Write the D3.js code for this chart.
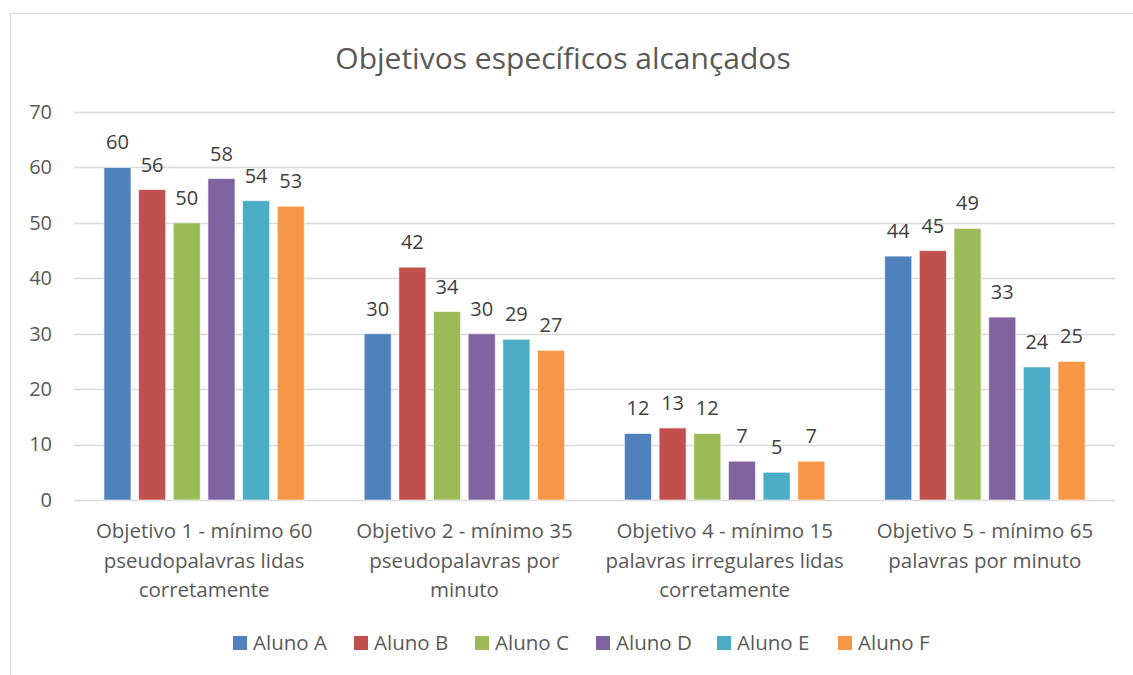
<!DOCTYPE html>
<html>
<head>
<meta charset="utf-8">
<script src="https://cdn.jsdelivr.net/npm/d3@7"></script>
<style>
  body { margin: 0; background: #fff; }
  svg { display: block; font-family: "Open Sans", "Noto Sans", sans-serif; }
</style>
</head>
<body>
<svg id="chart" width="1133" height="675"></svg>
<script>
const title = 'Objetivos específicos alcançados';

const categories = [
  'Objetivo 1 - mínimo 60\npseudopalavras lidas\ncorretamente',
  'Objetivo 2 - mínimo 35\npseudopalavras por\nminuto',
  'Objetivo 4 - mínimo 15\npalavras irregulares lidas\ncorretamente',
  'Objetivo 5 - mínimo 65\npalavras por minuto',
];

const seriesNames = ['Aluno A', 'Aluno B', 'Aluno C', 'Aluno D', 'Aluno E', 'Aluno F'];

const seriesValues = [
  [60, 30, 12, 44],
  [56, 42, 13, 45],
  [50, 34, 12, 49],
  [58, 30, 7, 33],
  [54, 29, 5, 24],
  [53, 27, 7, 25],
];

const yTicks = [0, 10, 20, 30, 40, 50, 60, 70];

const seriesColors = ['#4F81BD', '#C0504D', '#9BBB59', '#8064A2', '#4BACC6', '#F79646'];

function drawChart() {
  const svg = d3.select('#chart');
  const textColor = '#595959';
  const font = '"Open Sans", "Noto Sans", sans-serif';

  // frame (cut by the picture on the right and bottom)
  svg.append('rect')
    .attr('x', 10.5)
    .attr('y', 13.5)
    .attr('width', 1140)
    .attr('height', 700)
    .attr('fill', '#fff')
    .attr('stroke', '#d9d9d9');

  const plot = { left: 74, right: 1115, top: 112, bottom: 500 };

  const x0 = d3.scaleBand()
    .domain(categories)
    .range([plot.left, plot.right])
    .paddingInner(0.23)
    .paddingOuter(0.115);

  const x1 = d3.scaleBand()
    .domain(seriesNames)
    .range([0, x0.bandwidth()])
    .paddingInner(0.22)
    .paddingOuter(0);

  const y = d3.scaleLinear()
    .domain([0, 70])
    .range([plot.bottom, plot.top]);

  const color = d3.scaleOrdinal(seriesNames, seriesColors);

  // title
  svg.append('text')
    .attr('x', 563)
    .attr('y', 69)
    .attr('text-anchor', 'middle')
    .attr('font-size', 30)
    .attr('fill', textColor)
    .text(title);

  // gridlines
  svg.append('g')
    .selectAll('line')
    .data(yTicks)
    .join('line')
    .attr('x1', plot.left)
    .attr('x2', plot.right)
    .attr('y1', (d) => Math.round(y(d)) + 0.5)
    .attr('y2', (d) => Math.round(y(d)) + 0.5)
    .attr('stroke', '#d9d9d9')
    .attr('stroke-width', 1.3);

  // y axis labels
  const yAxis = svg.append('g')
    .attr('transform', `translate(${plot.left - 22},0)`)
    .call(d3.axisLeft(y).tickValues(yTicks).tickSize(0).tickPadding(0));
  yAxis.select('.domain').remove();
  yAxis.selectAll('text')
    .attr('font-size', 20)
    .attr('font-family', font)
    .attr('fill', textColor);

  // bars
  const rows = categories.map((c, ci) => ({
    cat: c,
    vals: seriesNames.map((s, si) => ({ s, v: seriesValues[si][ci] })),
  }));

  const groups = svg.append('g')
    .selectAll('g')
    .data(rows)
    .join('g')
    .attr('transform', (d) => `translate(${x0(d.cat)},0)`);

  groups.selectAll('rect')
    .data((d) => d.vals)
    .join('rect')
    .attr('x', (d) => x1(d.s))
    .attr('y', (d) => y(d.v))
    .attr('width', x1.bandwidth())
    .attr('height', (d) => y(0) - y(d.v))
    .attr('fill', (d) => color(d.s))
    .attr('stroke', '#fff')
    .attr('stroke-opacity', 0.6)
    .attr('stroke-width', 1);

  groups.selectAll('text')
    .data((d) => d.vals)
    .join('text')
    .attr('x', (d) => x1(d.s) + x1.bandwidth() / 2)
    .attr('y', (d) => y(d.v) - 18)
    .attr('text-anchor', 'middle')
    .attr('font-size', 20)
    .attr('fill', '#404040')
    .text((d) => d.v);

  // category labels
  const xAxis = svg.append('g')
    .attr('transform', `translate(0,${plot.bottom})`)
    .call(d3.axisBottom(x0).tickSize(0).tickFormat(''));
  xAxis.select('.domain').remove();
  xAxis.selectAll('.tick')
    .append('text')
    .attr('text-anchor', 'middle')
    .attr('font-size', 20.5)
    .attr('font-family', font)
    .attr('fill', textColor)
    .selectAll('tspan')
    .data((d) => d.split('\n'))
    .join('tspan')
    .attr('x', 0)
    .attr('y', (d, i) => 38 + i * 29.5)
    .text((d) => d);

  // legend
  const legend = svg.append('g')
    .attr('transform', 'translate(233,636)');
  const items = legend.selectAll('g')
    .data(seriesNames)
    .join('g')
    .attr('transform', (d, i) => `translate(${i * 121},0)`);
  items.append('rect')
    .attr('width', 14)
    .attr('height', 14)
    .attr('fill', (d) => color(d));
  items.append('text')
    .attr('x', 20)
    .attr('y', 14)
    .attr('font-size', 20.5)
    .attr('fill', textColor)
    .text((d) => d);
}

document.addEventListener('DOMContentLoaded', () => {
  drawChart();
});
</script>
</body>
</html>
